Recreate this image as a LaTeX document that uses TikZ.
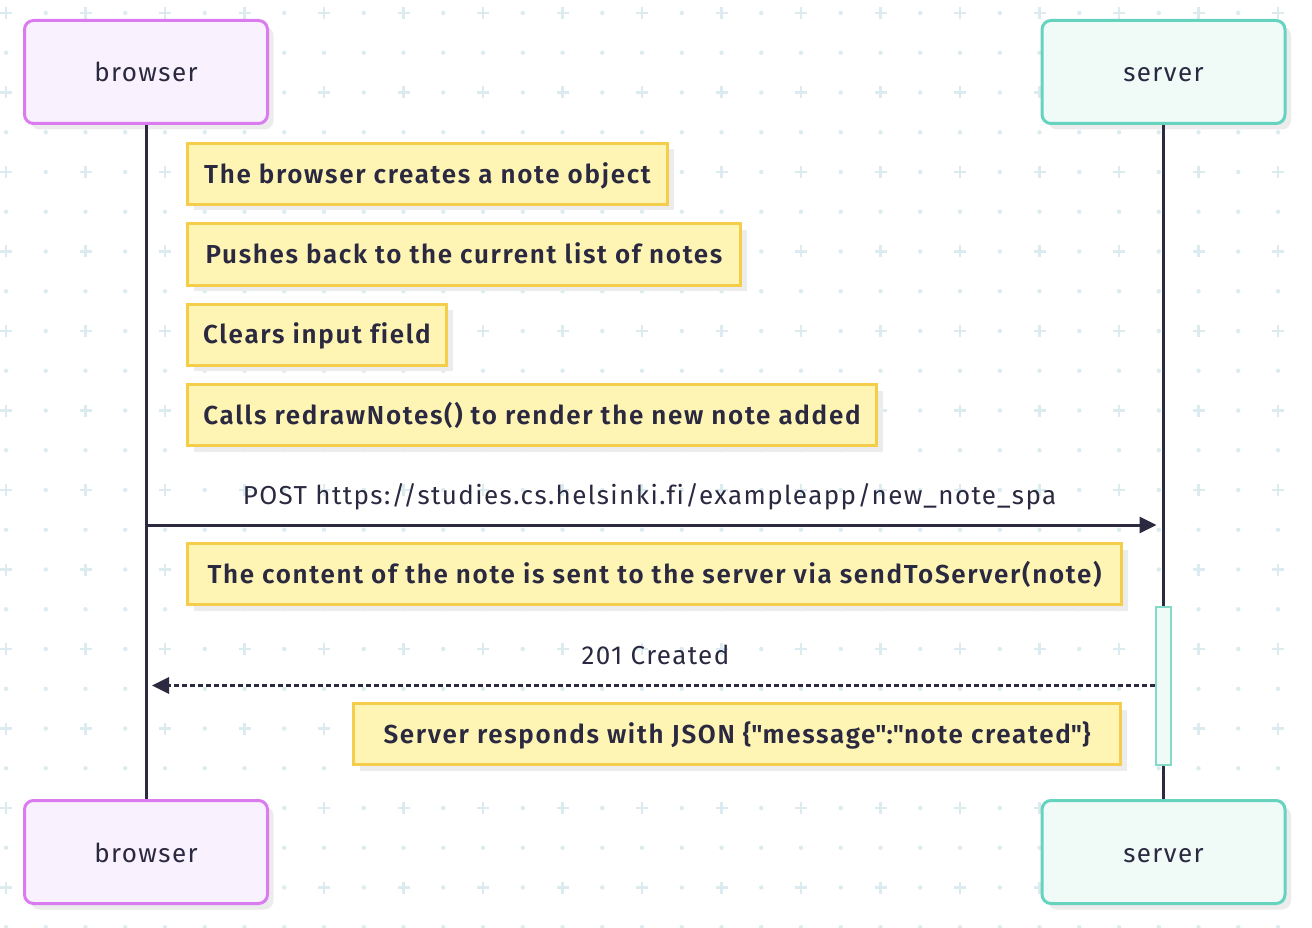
\documentclass[tikz,border=0pt]{standalone}
\usepackage{fontspec}
\setmainfont{Fira Sans}[LetterSpace=5.4,Ligatures=NoCommon]
\newfontfamily\notefont{Fira Sans SemiBold}[LetterSpace=6.5,Ligatures=NoCommon]
\usetikzlibrary{arrows.meta,shadows}
\definecolor{ink}{HTML}{2A2940}
\definecolor{linec}{HTML}{2B2A40}
\definecolor{gridc}{HTML}{DCEBEF}
\definecolor{brborder}{HTML}{DA7BF0}
\definecolor{brfill}{HTML}{F9F1FD}
\definecolor{svborder}{HTML}{66D3BF}
\definecolor{svfill}{HTML}{F0FBF8}
\definecolor{actborder}{HTML}{84DAC8}
\definecolor{notefill}{HTML}{FEF5B5}
\definecolor{noteborder}{HTML}{F4CD4B}
\definecolor{shadowc}{HTML}{ECECEC}
\tikzset{
  shd/.style={drop shadow={shadow xshift=6pt,shadow yshift=-6pt,fill=shadowc,opacity=1}},
  part/.style={shd,draw,line width=3pt,rounded corners=9pt,minimum width=243pt,minimum height=103pt,
    inner sep=0pt,text=ink,text height=20pt,text depth=0pt,font=\fontsize{26}{30}\selectfont},
  brbox/.style={part,draw=brborder,fill=brfill},
  svbox/.style={part,draw=svborder,fill=svfill},
  notebox/.style={shd,draw=noteborder,fill=notefill,line width=3pt,minimum height=61pt,inner sep=0pt,
    text=ink,text height=18.6pt,text depth=0pt,font=\fontsize{26}{30}\notefont},
  msglabel/.style={inner sep=0pt,anchor=base,text=ink,font=\fontsize{26}{30}\selectfont},
  lifeline/.style={draw=linec,line width=3pt},
  msg/.style={draw=linec,line width=3pt,-{Triangle[length=17pt,width=16pt]}},
  reply/.style={msg,dash pattern=on 5pt off 3pt},
  actbox/.style={draw=actborder,fill=svfill,line width=2pt,minimum width=15pt,minimum height=158pt,inner sep=0pt}
}
\begin{document}
\begin{tikzpicture}[x=1pt,y=-1pt]
\useasboundingbox (0,0) rectangle (1312,928);
\fill[white] (0,0) rectangle (1312,928);
% background pattern
\foreach \i in {0,...,32}{\foreach \j in {0,...,23}{%
  \pgfmathtruncatemacro{\k}{mod(\i,2)+mod(\j,2)}%
  \pgfmathsetmacro{\px}{6+39.75*\i}\pgfmathsetmacro{\py}{13+39.75*\j}%
  \ifnum\k=0
    \draw[gridc,line width=2.6pt] (\px-6,\py) -- (\px+6,\py) (\px,\py-6) -- (\px,\py+6);
  \else
    \fill[gridc] (\px,\py) circle[radius=2.2pt];
  \fi}}
% participants
\node[brbox] (bt) at (146,72) {browser};
\node[svbox] (st) at (1163.5,72) {server};
\node[brbox] (bb) at (146,852) {browser};
\node[svbox] (sb) at (1163.5,852) {server};
% lifelines
\draw[lifeline] (bt.south) -- (bb.north);
\draw[lifeline] (st.south) -- (sb.north);
% notes
\node[notebox,minimum width=480pt] (n1) at (427.5,174) {The browser creates a note object};
\node[notebox,minimum width=553pt] (n2) at (464,254.5) {Pushes back to the current list of notes};
\node[notebox,minimum width=259pt] (n3) at (317,334.5) {Clears input field};
\node[notebox,minimum width=689pt] (n4) at (532,415) {Calls redrawNotes() to render the new note added};
% POST message
\coordinate (bpost) at (bt.south |- 0,525);
\coordinate (spost) at (st.south |- 0,525);
\draw[msg,shorten >=7pt] (bpost) -- (spost);
\node[msglabel] (lpost) at (649.5,504) {POST https://studies.cs.helsinki.fi/exampleapp/new\_note\_spa};
\node[notebox,minimum width=934pt] (n5) at (654.5,574) {The content of the note is sent to the server via sendToServer(note)};
% activation
\node[actbox] (act) at (1163,685.5) {};
% reply
\coordinate (breply) at (bt.south |- act.west);
\draw[reply,shorten >=6pt] (act.west) -- (breply);
\node[msglabel] (lreply) at (655.5,664) {201 Created};
\node[notebox,minimum width=767pt] (n6) at (737,734) {Server responds with JSON \{\textquotedbl message\textquotedbl:\textquotedbl note created\textquotedbl\}};
\end{tikzpicture}
\end{document}
